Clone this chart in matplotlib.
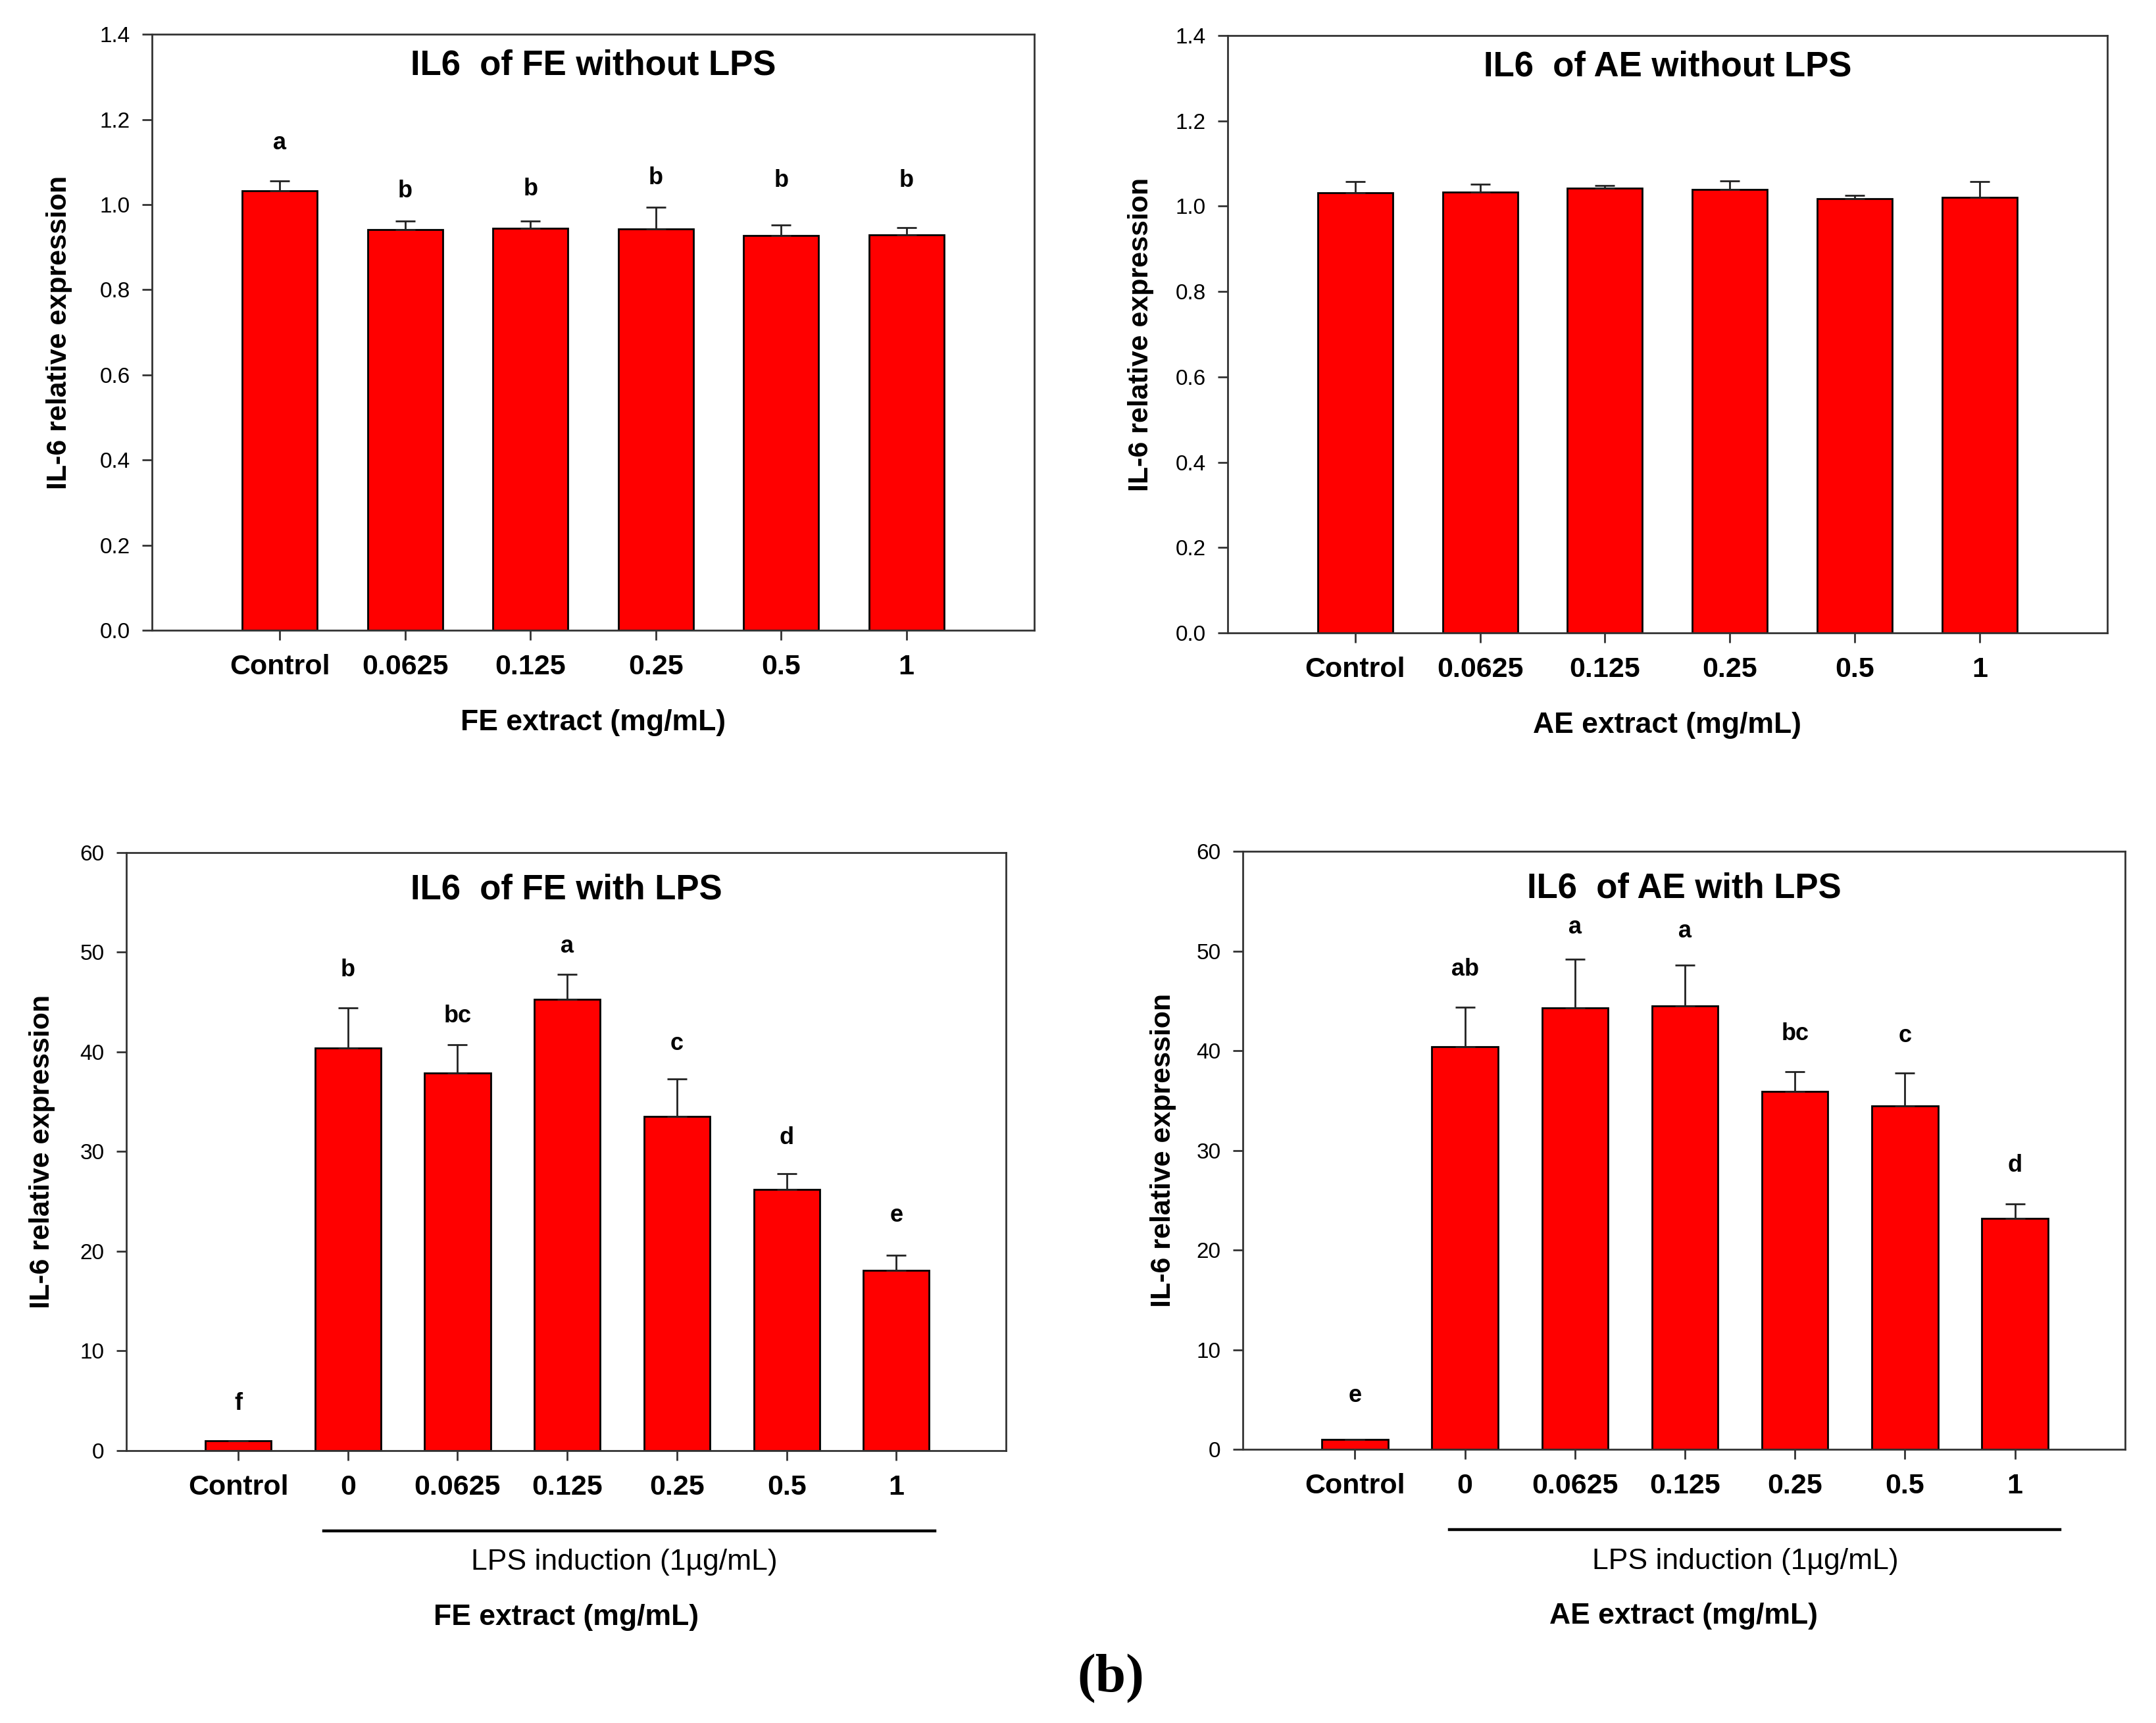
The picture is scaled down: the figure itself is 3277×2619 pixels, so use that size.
import matplotlib
matplotlib.use("Agg")
import matplotlib.pyplot as plt
import matplotlib.transforms as mtransforms
import numpy as np

plt.rcParams['font.family'] = ['Liberation Sans', 'DejaVu Sans']

# ---------------- data ----------------
top_cats = ['Control', '0.0625', '0.125', '0.25', '0.5', '1']
bot_cats = ['Control', '0', '0.0625', '0.125', '0.25', '0.5', '1']

fe_nolps_mean = [1.032, 0.941, 0.945, 0.942, 0.928, 0.929]
fe_nolps_err = [0.024, 0.020, 0.017, 0.052, 0.024, 0.017]
fe_nolps_letters = ['a', 'b', 'b', 'b', 'b', 'b']
fe_nolps_letter_y = [1.144, 1.031, 1.037, 1.063, 1.056, 1.056]

ae_nolps_mean = [1.032, 1.033, 1.042, 1.039, 1.017, 1.020]
ae_nolps_err = [0.025, 0.018, 0.006, 0.020, 0.009, 0.037]

fe_lps_mean = [1.0, 40.4, 37.9, 45.3, 33.5, 26.2, 18.1]
fe_lps_err = [0.0, 4.0, 2.8, 2.5, 3.8, 1.6, 1.5]
fe_lps_letters = ['f', 'b', 'bc', 'a', 'c', 'd', 'e']
fe_lps_letter_y = [4.7, 48.2, 43.6, 50.6, 40.8, 31.4, 23.6]

ae_lps_mean = [1.0, 40.4, 44.3, 44.5, 35.9, 34.5, 23.2]
ae_lps_err = [0.0, 4.0, 4.9, 4.1, 2.0, 3.3, 1.4]
ae_lps_letters = ['e', 'ab', 'a', 'a', 'bc', 'c', 'd']
ae_lps_letter_y = [5.4, 48.2, 52.4, 52.0, 41.7, 41.5, 28.5]

# ---------------- style ----------------
SPINE = '#333333'
BAR = '#FF0000'

fig = plt.figure(figsize=(32.77, 26.19), dpi=100)


def panel(rect, cats, mean, err, ylim, yticks, yfmt, title, xlabel,
          letters=None, letter_y=None, lps=None, title_y=0.948, xlabel_y=-0.155,
          ylabel_x=-0.105):
    ax = fig.add_axes(rect)
    x = np.arange(len(cats))
    ax.bar(x, mean, width=0.6, color=BAR, edgecolor='black', linewidth=2.0, zorder=2)
    lower = np.zeros(len(mean))
    ax.errorbar(x, mean, yerr=[lower, err], fmt='none', ecolor='#222222',
                elinewidth=2.0, capsize=11, capthick=2.0, zorder=3)
    ax.set_xlim(-1.02, len(cats) - 1 + 1.02 if len(cats) == 6 else len(cats))
    ax.set_ylim(*ylim)
    ax.set_yticks(yticks)
    ax.set_yticklabels([yfmt % v for v in yticks], fontsize=24)
    ax.set_xticks(x)
    ax.set_xticklabels(cats, fontsize=31, fontweight='bold')
    for s in ax.spines.values():
        s.set_color(SPINE)
        s.set_linewidth(2.0)
    ax.tick_params(axis='both', direction='out', length=11, width=2.0, color=SPINE)
    ax.tick_params(axis='y', pad=13)
    ax.tick_params(axis='x', pad=15)
    ax.text(0.5, title_y, title, transform=ax.transAxes, ha='center', va='center',
            fontsize=38, fontweight='bold')
    ax.text(0.5, xlabel_y, xlabel, transform=ax.transAxes, ha='center', va='center',
            fontsize=32, fontweight='bold')
    ax.text(ylabel_x, 0.5, 'IL-6 relative expression', transform=ax.transAxes,
            ha='center', va='center', rotation=90, fontsize=31, fontweight='bold')
    if letters is not None:
        for xi, lt, ly in zip(x, letters, letter_y):
            ax.text(xi, ly, lt, ha='center', va='center', fontsize=26, fontweight='bold')
    if lps is not None:
        x0, x1, tx = lps
        trans = mtransforms.blended_transform_factory(ax.transData, ax.transAxes)
        ax.plot([x0, x1], [-0.134, -0.134], color='black', linewidth=3.2,
                transform=trans, clip_on=False)
        ax.text(tx, -0.187, 'LPS induction (1µg/mL)', transform=trans,
                ha='center', va='center', fontsize=32)
    return ax


top_yticks = [0.0, 0.2, 0.4, 0.6, 0.8, 1.0, 1.2, 1.4]
bot_yticks = [0, 10, 20, 30, 40, 50, 60]

panel([0.0705, 0.6342, 0.4092, 0.3459], top_cats, fe_nolps_mean, fe_nolps_err,
      (0, 1.4), top_yticks, '%.1f', 'IL6  of FE without LPS', 'FE extract (mg/mL)',
      fe_nolps_letters, fe_nolps_letter_y, ylabel_x=-0.105)

panel([0.5694, 0.6327, 0.4080, 0.3467], top_cats, ae_nolps_mean, ae_nolps_err,
      (0, 1.4), top_yticks, '%.1f', 'IL6  of AE without LPS', 'AE extract (mg/mL)',
      ylabel_x=-0.099)

panel([0.0586, 0.1581, 0.4080, 0.3471], bot_cats, fe_lps_mean, fe_lps_err,
      (0, 60), bot_yticks, '%d', 'IL6  of FE with LPS', 'FE extract (mg/mL)',
      fe_lps_letters, fe_lps_letter_y, lps=(0.78, 6.35, 3.52),
      title_y=0.938, xlabel_y=-0.279, ylabel_x=-0.096)

panel([0.5764, 0.1588, 0.4092, 0.3470], bot_cats, ae_lps_mean, ae_lps_err,
      (0, 60), bot_yticks, '%d', 'IL6  of AE with LPS', 'AE extract (mg/mL)',
      ae_lps_letters, ae_lps_letter_y, lps=(0.86, 6.41, 3.55),
      title_y=0.938, xlabel_y=-0.279, ylabel_x=-0.090)

fig.text(1688 / 3277, 1 - 2552 / 2619, '(b)', ha='center', va='center',
         fontsize=60, fontweight='bold', family=['Liberation Serif', 'DejaVu Serif'])

fig.savefig('out.png', dpi=100, facecolor='white')
